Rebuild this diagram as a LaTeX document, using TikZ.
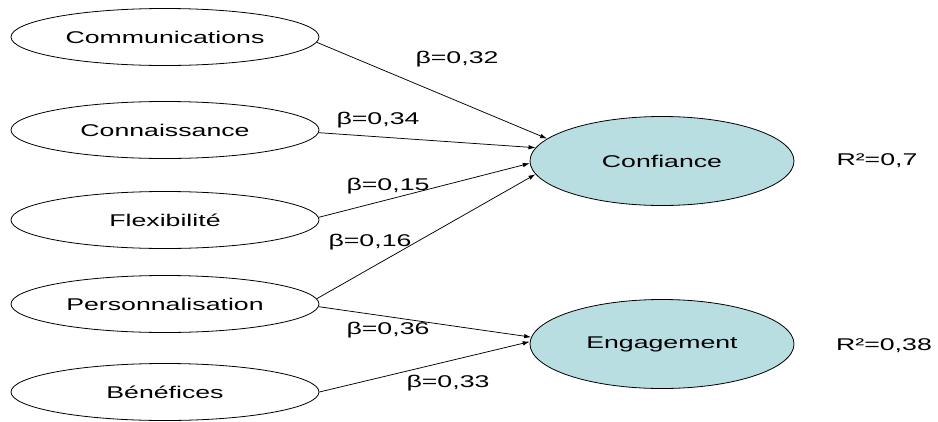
\documentclass[tikz,border=0pt]{standalone}
\usepackage{fontspec}
\setmainfont{Liberation Sans}[FakeStretch=1.57]
\usetikzlibrary{shapes.geometric,arrows.meta}
\definecolor{latent}{RGB}{184,222,226}
\begin{document}
\begin{tikzpicture}[x=1pt,y=-1pt,
  every node/.style={font=\fontsize{17}{20}\selectfont},
  obs/.style={ellipse,draw,line width=0.8pt,minimum width=308pt,minimum height=57pt,inner sep=0pt},
  lat/.style={ellipse,draw,line width=0.8pt,fill=latent,minimum width=264pt,minimum height=89pt,inner sep=0pt},
  path/.style={line width=0.75pt,-{Latex[length=7pt,width=4.5pt]}},
  lbl/.style={inner sep=0pt}]
\useasboundingbox (0,0) rectangle (938,421);
\node[obs] (comm) at (165,37) {Communications};
\node[obs] (conn) at (165,130) {Connaissance};
\node[obs] (flex) at (165,220) {Flexibilité};
\node[obs] (pers) at (165,304) {Personnalisation};
\node[obs] (bene) at (165,392) {Bénéfices};
\node[lat] (conf) at (662,161) {Confiance};
\node[lat] (enga) at (662,344) {Engagement};
\node[lbl] (r1) at (877,161) {R²=0,7};
\node[lbl] (r2) at (884,346) {R²=0,38};
\draw[path] (comm.-2) -- (conf.169.6);
\draw[path] (conn.-1) -- (conf.174.5);
\draw[path] (flex.1) -- (conf.181.7);
\draw[path] (pers.2) -- (conf.186);
\draw[path] (pers.-1) -- (enga.177);
\draw[path] (bene.0) -- (enga.179.6);
\node[lbl] (b1) at (457,59) {β=0,32};
\node[lbl] (b2) at (378,120) {β=0,34};
\node[lbl] (b3) at (388,186) {β=0,15};
\node[lbl] (b4) at (370,242) {β=0,16};
\node[lbl] (b5) at (388,330) {β=0,36};
\node[lbl] (b6) at (448,383) {β=0,33};
\end{tikzpicture}
\end{document}
